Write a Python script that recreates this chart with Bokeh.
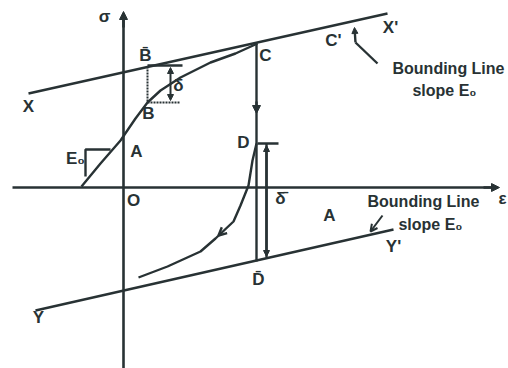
from bokeh.plotting import figure
from bokeh.models import Range1d, Arrow, NormalHead, OpenHead
from bokeh.core.properties import value
from bokeh.embed import file_html
from bokeh.resources import INLINE

INK = "#283234"
FONT = "Liberation Sans"

# --- diagram geometry (origin at O, units = strain/stress sketch units) ---
sigma_axis_x = [0, 0]
sigma_axis_y = [-181, 174]
eps_axis_x = [-111, 374]
eps_axis_y = [0, 0]

upper_bound_x = [-95, 264]
upper_bound_y = [94, 174]
lower_bound_x = [-88, 270]
lower_bound_y = [-123, -42]

loading_x = [-42, -23, -3, 12, 24, 37, 57, 87, 112, 134]
loading_y = [1, 24, 47, 69, 85, 97, 110, 125, 134, 144]

reverse_x = [133, 129, 125, 117, 110, 92, 77, 44, 15]
reverse_y = [44, 27, 2, -18, -34, -51, -64, -79, -90]

unload_x = [133, 133]
unload_y = [144, -74]
delta_in_x = [143, 143]
delta_in_y = [44, -70]
d_bar_x = [134, 155]
d_bar_y = [44, 44]

bbar_h_x = [24, 59]
bbar_h_y = [122, 122]
b_dot_v_x = [24, 24]
b_dot_v_y = [121, 85]
b_dot_h_x = [24, 57]
b_dot_h_y = [85, 85]

e0_tri_x = [-38, -13, -38, -38]
e0_tri_y = [38, 38, 38, 11]

leader_up_x = [254, 232]
leader_up_y = [124, 145]

# labels
big_text = ["σ", "ε", "X", "X'", "Y", "Y'", "B̄", "B", "δ", "A", "O", "E₀",
            "C", "C'", "D", "δ̄", "A", "D̄"]
big_x = [-19, 379, -95, 267, -85, 270, 22, 25, 55, 13, 10, -48,
         142, 210, 120, 157, 206, 135]
big_y = [171, -11, 81, 160, -130, -59, 132, 74, 102, 36, -13, 29,
         132, 147, 45, -11, -28, -92]

note_text = ["Bounding Line", "slope E₀", "Bounding Line", "slope E₀"]
note_x = [325, 321, 300, 307]
note_y = [119, 97, -14, -37]

p = figure(width=508, height=368, x_range=Range1d(-123, 385), y_range=Range1d(-181, 187),
           output_backend="svg", toolbar_location=None, min_border=0,
           x_axis_type=None, y_axis_type=None)
p.grid.visible = False
p.outline_line_color = None
p.background_fill_color = "white"

lw = 2.4
for xs, ys in [(eps_axis_x, eps_axis_y), (upper_bound_x, upper_bound_y),
               (lower_bound_x, lower_bound_y), (loading_x, loading_y),
               (reverse_x, reverse_y), (unload_x, unload_y), (delta_in_x, delta_in_y),
               (d_bar_x, d_bar_y), (bbar_h_x, bbar_h_y), (e0_tri_x, e0_tri_y),
               (leader_up_x, leader_up_y)]:
    p.line(xs, ys, line_color=INK, line_width=lw)

p.line(sigma_axis_x, sigma_axis_y, line_color=INK, line_width=2.6)
p.line(b_dot_v_x, b_dot_v_y, line_color=INK, line_width=2, line_dash="2 1")
p.line(b_dot_h_x, b_dot_h_y, line_color=INK, line_width=2, line_dash="2 1")

def head(size=8):
    return NormalHead(size=size, fill_color=INK, line_color=INK, line_width=1)

# axis arrow heads
p.add_layout(Arrow(end=head(8), x_start=0, y_start=160, x_end=0, y_end=176,
                   line_color=INK, line_width=2.6))
p.add_layout(Arrow(end=head(8), x_start=360, y_start=0, x_end=376, y_end=0,
                   line_color=INK, line_width=2.4))
# unloading arrow on C-D
p.add_layout(Arrow(end=head(8), x_start=133, y_start=86, x_end=133, y_end=74,
                   line_color=INK, line_width=lw))
# delta_in dimension arrows
p.add_layout(Arrow(start=head(6), end=head(6), x_start=143, y_start=42, x_end=143, y_end=-69,
                   line_color=INK, line_width=lw))
# delta dimension near B
p.add_layout(Arrow(start=head(6), end=head(6), x_start=47, y_start=87, x_end=47, y_end=120,
                   line_color=INK, line_width=2))
# reverse curve direction arrow
p.add_layout(Arrow(end=OpenHead(size=8, line_color=INK, line_width=2.4), x_start=104, y_start=-40,
                   x_end=95, y_end=-48, line_color=INK, line_width=0.1))
# leaders from notes
p.add_layout(Arrow(end=head(6), x_start=232, y_start=145, x_end=231, y_end=160,
                   line_color=INK, line_width=lw))
p.add_layout(Arrow(end=OpenHead(size=7, line_color=INK, line_width=2), x_start=259, y_start=-28,
                   x_end=247, y_end=-44, line_color=INK, line_width=2))

p.text(x=big_x, y=big_y, text=big_text, text_font=value(FONT), text_font_style="bold",
       text_font_size="17px", text_align="center", text_baseline="middle", text_color=INK)
p.text(x=note_x, y=note_y, text=note_text, text_font=value(FONT), text_font_style="bold",
       text_font_size="16px", text_align="center", text_baseline="middle", text_color=INK)

open("out.html", "w").write(file_html(p, INLINE))
